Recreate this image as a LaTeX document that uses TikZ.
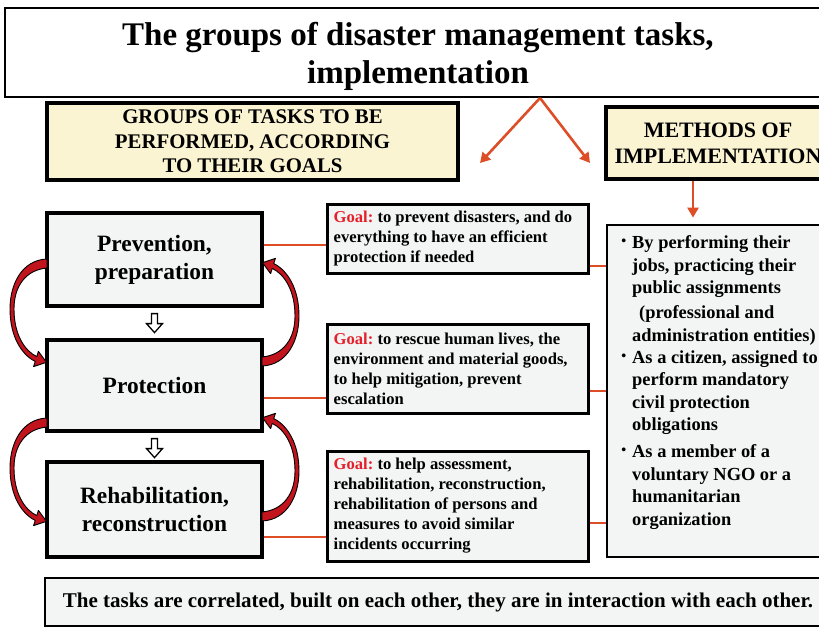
\documentclass[tikz,border=0pt]{standalone}
\usepackage{fontspec}
\setmainfont{Liberation Serif}
\usetikzlibrary{calc,arrows.meta}
\definecolor{boxfill}{HTML}{F3F4F4}
\definecolor{yel}{HTML}{FBF4D2}
\definecolor{org}{HTML}{DD4E27}
\definecolor{darkred}{HTML}{C2141D}
\definecolor{goalred}{HTML}{E4202A}
\frenchspacing
\newcommand{\fsz}[2]{\fontsize{#1}{#2}\selectfont\bfseries}
\newcommand{\goal}{{\color{goalred}Goal:} }
\newcommand{\bul}{\llap{\raisebox{3pt}{\fontsize{14}{14}\selectfont\textbullet}\hspace{6pt}}}
\newcommand{\curvedarrowshape}{%
  (0,0) .. controls (-25,1) and (-37,25) .. (-37,50)
  .. controls (-37,78) and (-25,96) .. (-11.75,102.4)
  -- (-13.4,107.6) -- (-0.5,103.3) -- (-8.6,92.4) -- (-10.25,97.6)
  .. controls (-22,92) and (-33,76) .. (-33,50)
  .. controls (-33,28) and (-22,11) .. (0,9) -- cycle}
\begin{document}
\begin{tikzpicture}[x=1pt,y=-1pt,
  taskbox/.style={draw=black, line width=3.2pt, fill=boxfill, minimum width=215pt, minimum height=92pt, align=center, inner sep=0pt, font=\fsz{23.4}{28}},
  goalbox/.style={draw=black, line width=3pt, fill=boxfill, minimum width=261pt, inner sep=0pt},
  goaltext/.style={anchor=west, align=left, inner sep=0pt, font=\fsz{16.6}{20}},
  yelbox/.style={draw=black, line width=3.6pt, fill=yel, align=center, inner sep=0pt},
  conn/.style={draw=org, line width=2.8pt},
  orgarrow/.style={draw=org, line width=2.6pt, -{Triangle[length=10pt,width=11pt]}},
  curved/.style={fill=darkred, draw=black, line width=0.9pt, line join=round},
  hollow/.style={fill=white, draw=black, line width=1.3pt},
  bullettext/.style={anchor=north west, align=left, inner sep=0pt, font=\fsz{18.4}{22.5}}
]
\clip (0,0) rectangle (819,629);
\fill[white] (0,0) rectangle (819,629);

% title
\node[draw=black, line width=2pt, fill=white, minimum width=826pt, minimum height=89pt, inner sep=0pt] (title) at (418,52.5) {};
\node[align=center, inner sep=0pt, font=\fsz{33}{38}] (titletext) at (418,56.5) {The groups of disaster management tasks,\\implementation};

% headers
\node[yelbox, minimum width=411pt, minimum height=77pt, font=\fsz{20.8}{24.5}] (groups) at (252.5,141.5) {GROUPS OF TASKS TO BE\\PERFORMED, ACCORDING\\TO THEIR GOALS};
\node[yelbox, minimum width=224pt, minimum height=72pt, font=\fsz{22}{26}] (methods) at (718,143) {METHODS OF\\IMPLEMENTATION};

% arrows from title
\coordinate (apex) at ([xshift=122pt]title.south);
\coordinate (lend) at (480,163);
\coordinate (rend) at (590,163);
\draw[orgarrow] (apex) -- (lend);
\draw[orgarrow] (apex) -- (rend);

% task boxes
\node[taskbox, minimum height=93pt] (prev) at (154.5,259.5) {Prevention,\\preparation};
\node[taskbox, minimum height=91pt] (prot) at (154.5,385.5) {Protection};
\node[taskbox, minimum height=95pt] (rehab) at (154.5,509.5) {Rehabilitation,\\reconstruction};

% goal boxes
\node[goalbox, minimum height=69pt] (goal1) at (457.5,238.5) {};
\node[goaltext] (g1t) at ([xshift=8pt]goal1.west) {\goal to prevent disasters, and do\\everything to have an efficient\\protection if needed};
\node[goalbox, minimum height=89pt] (goal2) at (457.5,368.5) {};
\node[goaltext] (g2t) at ([xshift=8pt]goal2.west) {\goal to rescue human lives, the\\environment and material goods,\\to help mitigation, prevent\\escalation};
\node[goalbox, minimum height=110pt] (goal3) at (457.5,506) {};
\node[goaltext] (g3t) at ([xshift=8pt]goal3.west) {\goal to help assessment,\\rehabilitation, reconstruction,\\rehabilitation of persons and\\measures to avoid similar\\incidents occurring};

% methods box
\node[draw=black, line width=2.8pt, fill=boxfill, minimum width=223pt, minimum height=332pt, inner sep=0pt] (rightbox) at (718.5,391) {};
\node[bullettext] (b1) at (632,235.5) {\bul By performing their\\jobs, practicing their\\public assignments\\[2.5pt]\hspace{7pt}(professional and\\administration entities)};
\node[bullettext] (b2) at (632,350.5) {\bul As a citizen, assigned to\\perform mandatory\\civil protection\\obligations};
\node[bullettext] (b3) at (632,444.5) {\bul As a member of a\\voluntary NGO or a\\humanitarian\\organization};

% methods arrow
\draw[orgarrow, shorten >=6pt] ([xshift=-25pt]methods.south) -- ([xshift=-25pt]methods.south |- rightbox.north);

% connectors
\draw[conn] ([yshift=14.5pt]prev.east) -- ([yshift=14.5pt]prev.east -| goal1.west);
\draw[conn] ([yshift=-27.5pt]goal1.east) -- ([yshift=-27.5pt]goal1.east -| rightbox.west);
\draw[conn] ([yshift=-12.5pt]prot.east) -- ([yshift=-12.5pt]prot.east -| goal2.west);
\draw[conn] ([yshift=-22.5pt]goal2.east) -- ([yshift=-22.5pt]goal2.east -| rightbox.west);
\draw[conn] ([yshift=-27.5pt]rehab.east) -- ([yshift=-27.5pt]rehab.east -| goal3.west);
\draw[conn] ([yshift=-17pt]goal3.east) -- ([yshift=-17pt]goal3.east -| rightbox.west);

% hollow down arrows
\foreach \a in {prev,prot}{
  \draw[hollow] ($(\a.south)+(0,6)$) ++(-3,0) -- ++(6,0) -- ++(0,10) -- ++(5,0) -- ++(-8,9) -- ++(-8,-9) -- ++(5,0) -- cycle;
}

% curved arrows
\draw[curved, shift={(47,259)}] \curvedarrowshape;
\draw[curved, shift={(262,366)}, rotate=180] \curvedarrowshape;
\draw[curved, shift={(47,418)}] \curvedarrowshape;
\draw[curved, shift={(262,521)}, rotate=180] \curvedarrowshape;

% bottom
\node[draw=black, line width=2.6pt, fill=boxfill, minimum width=786pt, minimum height=48pt, inner sep=0pt, font=\fsz{21}{25}] (bottom) at (438,602) {The tasks are correlated, built on each other, they are in interaction with each other.};
\end{tikzpicture}
\end{document}
